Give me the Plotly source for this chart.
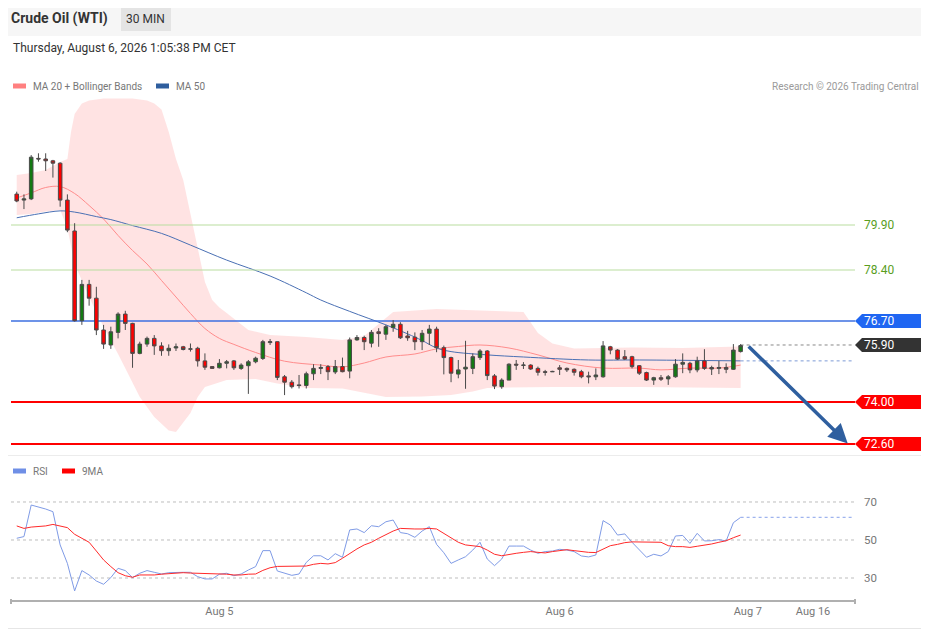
import plotly.graph_objects as go

W, H = 929, 629
PAD = 8  # page body margin of the browser

# ---- candle data (30 min bars) ----
opens = [80.93, 80.73, 80.77, 82.12, 82.10, 82.04, 81.96, 80.73, 79.70, 76.71,
         77.92, 77.46, 76.40, 75.90, 76.32, 76.93, 76.62, 75.62, 75.93, 76.12,
         75.87, 75.71, 75.80, 75.84, 75.76, 75.79, 75.37, 75.18, 75.14, 75.29,
         75.37, 75.12, 75.21, 75.34, 75.45, 75.98, 76.01, 74.84, 74.66, 74.57,
         74.55, 74.94, 75.12, 75.18, 75.00, 75.18, 75.03, 76.07, 76.15, 75.96,
         76.34, 76.26, 76.48, 76.59, 76.20, 76.16, 76.01, 76.29, 76.43, 75.81,
         75.48, 74.93, 75.10, 75.12, 75.48, 75.70, 74.87, 74.51, 74.73, 75.26,
         75.22, 75.23, 75.12, 75.01, 75.02, 75.14, 75.12, 75.09, 75.01, 74.87,
         74.84, 74.84, 75.84, 75.73, 75.51, 75.51, 75.21, 74.98, 74.73, 74.81,
         74.77, 74.84, 75.26, 75.29, 75.07, 75.37, 75.15, 75.12, 75.15, 75.09,
         75.68]
highs = [81.01, 80.92, 82.23, 82.29, 82.29, 82.07, 81.99, 80.92, 79.96, 78.07,
         78.07, 77.84, 76.57, 76.51, 76.99, 77.04, 76.64, 76.01, 76.18, 76.23,
         75.99, 75.92, 75.95, 75.87, 75.95, 75.84, 75.62, 75.19, 75.43, 75.40,
         75.40, 75.29, 75.40, 75.51, 76.07, 76.10, 76.02, 74.90, 74.73, 74.90,
         75.01, 75.26, 75.26, 75.23, 75.40, 75.48, 76.15, 76.23, 76.21, 76.40,
         76.46, 76.57, 76.73, 76.66, 76.37, 76.32, 76.40, 76.57, 76.51, 75.88,
         75.51, 75.40, 76.04, 75.62, 75.76, 75.73, 74.93, 74.79, 75.29, 75.40,
         75.33, 75.26, 75.18, 75.07, 75.04, 75.23, 75.15, 75.12, 75.07, 75.01,
         75.12, 76.03, 75.87, 75.76, 75.73, 75.54, 75.23, 75.01, 74.84, 74.90,
         74.90, 75.43, 75.62, 75.34, 75.51, 75.76, 75.21, 75.37, 75.29, 75.93,
         75.93]
lows = [80.66, 80.43, 80.73, 82.01, 81.70, 81.48, 80.51, 79.66, 76.68, 76.57,
        77.21, 76.23, 75.77, 75.77, 76.12, 76.40, 75.14, 75.59, 75.84, 75.57,
        75.54, 75.54, 75.70, 75.72, 75.68, 75.18, 75.07, 75.11, 75.12, 75.12,
        75.07, 75.07, 74.27, 75.29, 75.40, 75.90, 74.73, 74.23, 74.45, 74.45,
        74.45, 74.73, 74.93, 74.73, 74.93, 74.99, 74.79, 76.04, 75.73, 75.82,
        75.84, 76.07, 76.34, 76.10, 76.04, 75.73, 75.73, 75.90, 75.66, 74.92,
        74.66, 74.79, 74.44, 74.93, 75.40, 74.73, 74.43, 74.44, 74.73, 75.07,
        75.10, 75.07, 74.88, 74.88, 75.00, 74.90, 75.00, 74.88, 74.79, 74.62,
        74.73, 74.81, 75.59, 75.40, 75.40, 75.12, 74.90, 74.70, 74.57, 74.70,
        74.57, 74.81, 74.96, 74.96, 74.99, 75.07, 74.90, 74.93, 74.96, 75.07,
        75.65]
closes = [80.70, 80.77, 82.16, 82.10, 82.04, 81.96, 80.73, 79.73, 76.71, 77.92,
          77.46, 76.40, 75.93, 76.34, 76.93, 76.62, 75.62, 75.93, 76.12, 75.87,
          75.71, 75.79, 75.84, 75.75, 75.77, 75.37, 75.16, 75.12, 75.29, 75.34,
          75.14, 75.23, 75.34, 75.46, 76.01, 76.01, 74.82, 74.66, 74.51, 74.55,
          74.94, 75.12, 75.15, 75.01, 75.18, 75.01, 76.07, 76.15, 76.01, 76.32,
          76.28, 76.51, 76.59, 76.14, 76.14, 76.01, 76.29, 76.43, 75.81, 75.48,
          74.96, 75.07, 75.16, 75.51, 75.70, 74.88, 74.53, 74.73, 75.26, 75.23,
          75.23, 75.10, 74.99, 74.99, 75.01, 75.09, 75.07, 74.99, 74.84, 74.84,
          74.90, 75.87, 75.73, 75.43, 75.43, 75.18, 74.96, 74.73, 74.81, 74.76,
          74.84, 75.26, 75.32, 75.07, 75.37, 75.12, 75.10, 75.15, 75.09, 75.73,
          75.88]
bars = list(range(len(closes)))

# ---- indicators ----
ma20_idx = [0, 2, 4, 6, 8, 10, 12, 14, 16, 18, 20, 22, 24, 26, 28, 30, 33, 37, 42, 45,
            48, 51, 55, 58, 61, 64, 68, 72, 76, 81, 86, 89, 93, 97, 100]
ma20 = [80.80, 80.97, 81.15, 81.18, 80.95, 80.55, 80.10, 79.55, 79.05, 78.60,
        78.05, 77.50, 76.95, 76.45, 76.12, 75.92, 75.65, 75.36, 75.23, 75.17,
        75.30, 75.50, 75.60, 75.77, 75.85, 75.90, 75.80, 75.57, 75.30, 75.13,
        75.13, 75.07, 75.13, 75.13, 75.23]

ma50_idx = [0, 3, 6, 8, 11, 13, 16, 20, 24, 29, 35, 40, 42, 46, 51, 54, 56, 58, 60, 65,
            70, 79, 86, 100]
ma50 = [80.14, 80.27, 80.37, 80.33, 80.18, 80.08, 79.88, 79.62, 79.23, 78.73,
        78.20, 77.64, 77.40, 77.02, 76.57, 76.27, 76.05, 75.80, 75.68, 75.57,
        75.50, 75.40, 75.40, 75.37]

bb_up_idx = [0, 2, 4, 6, 7, 7.5, 8, 9, 10, 12, 16, 18, 19, 20, 21, 22, 23, 24, 25, 26,
             27, 28, 29, 32, 35, 40, 45, 48, 50, 52, 58, 64, 70, 72, 74, 77, 85, 92, 100]
bb_up = [81.57, 81.63, 81.73, 82.00, 82.10, 83.00, 83.60, 83.95, 84.05, 84.12,
         84.12, 84.05, 83.95, 83.75, 83.00, 82.10, 81.40, 80.30, 79.17, 78.00,
         77.40, 77.15, 76.97, 76.40, 76.23, 76.17, 76.07, 76.20, 76.60, 77.00,
         77.10, 77.05, 77.00, 76.30, 75.95, 75.78, 75.82, 75.80, 75.85]

bb_lo_idx = [0, 2, 4, 6, 7, 8, 10, 12, 14, 17, 19, 21, 22, 23, 24, 25, 26, 29, 33, 36,
             40, 45, 51, 56, 60, 63, 65, 74, 86, 100]
bb_lo = [80.23, 80.27, 80.35, 80.40, 79.80, 78.60, 77.50, 76.50, 75.60, 74.17,
         73.50, 73.05, 73.00, 73.30, 73.63, 74.17, 74.50, 74.73, 74.77, 74.62,
         74.47, 74.45, 74.17, 74.18, 74.23, 74.35, 74.47, 74.50, 74.50, 74.47]

rsi = [50.9, 51.8, 68.4, 67.5, 66.3, 64.9, 47.4, 37.7, 23.2, 33.9,
       31.6, 28.4, 26.7, 30.2, 35.1, 33.9, 30.2, 32.5, 33.9, 33.0,
       32.1, 32.8, 33.0, 33.0, 33.0, 30.7, 29.5, 29.5, 32.0, 32.5,
       31.2, 32.1, 34.2, 36.0, 44.4, 44.4, 33.7, 32.5, 31.4, 32.1,
       38.2, 41.7, 41.7, 39.5, 42.8, 40.9, 55.3, 55.8, 53.9, 57.5,
       57.0, 59.6, 60.5, 53.9, 53.3, 51.4, 54.7, 57.0, 47.7, 43.3,
       37.7, 39.5, 41.2, 44.7, 48.8, 40.0, 36.5, 40.0, 46.8, 46.8,
       46.8, 44.7, 43.0, 43.9, 44.2, 45.1, 44.7, 43.9, 41.6, 41.1,
       42.1, 60.2, 57.9, 52.6, 53.2, 48.8, 44.7, 40.9, 42.5, 41.6,
       43.9, 52.1, 52.4, 48.2, 53.5, 49.5, 49.6, 50.2, 49.5, 59.1,
       61.9]
rsi_ma9 = [57.4, 56.1, 56.8, 57.2, 57.4, 58.2, 57.5, 56.5, 53.0, 50.9,
           48.8, 44.2, 39.5, 36.0, 32.8, 31.2, 30.4, 31.6, 31.6, 31.6,
           32.0, 32.3, 32.8, 32.8, 32.6, 32.5, 32.3, 32.1, 32.0, 32.0,
           31.6, 31.6, 32.0, 32.1, 34.0, 35.4, 36.1, 36.1, 36.1, 36.1,
           36.3, 37.2, 37.7, 37.4, 38.1, 40.4, 43.0, 45.3, 47.4, 48.8,
           50.9, 53.0, 54.7, 56.1, 55.8, 55.8, 55.8, 56.1, 55.8, 53.5,
           51.2, 48.8, 47.4, 47.0, 46.5, 44.7, 42.5, 41.7, 42.5, 43.0,
           43.5, 43.9, 43.5, 43.2, 43.9, 44.6, 44.9, 44.4, 43.9, 43.5,
           43.4, 45.3, 47.0, 47.7, 48.6, 49.0, 49.0, 49.0, 49.0, 48.8,
           47.0, 46.5, 46.5, 46.1, 46.7, 47.2, 47.9, 48.8, 49.6, 51.2,
           52.6]

# key levels
resist = [79.90, 78.40]
pivot = 76.70
last_price = 75.90
support = [74.00, 72.60]
target = 72.60
rsi_levels = [70, 50, 30]

tick_pos = [28, 75, 101, 110]
tick_text = ['Aug 5', 'Aug 6', 'Aug 7', 'Aug 16']

x_range = [-0.79, 115.8]
y_range = [72.233, 84.233]
rsi_range = [18.42, 92.1]

FW, FH = W - PAD, H - PAD


def px(x):
    return (x - PAD) / FW


def py(y):
    return 1 - (y - PAD) / FH


fig = go.Figure()

# bollinger band + moving averages (base price axis)
fig.add_trace(go.Scatter(x=bb_up_idx, y=bb_up, mode='lines', line=dict(width=0),
                         hoverinfo='skip', xaxis='x', yaxis='y'))
fig.add_trace(go.Scatter(x=bb_lo_idx, y=bb_lo, mode='lines', line=dict(width=0),
                         fill='tonexty', fillcolor='rgba(255,215,215,0.7)', hoverinfo='skip',
                         xaxis='x', yaxis='y'))
fig.add_trace(go.Scatter(x=ma20_idx, y=ma20, mode='lines', line=dict(color='#ff8c8c', width=1, shape='spline'),
                         xaxis='x', yaxis='y'))
fig.add_trace(go.Scatter(x=ma50_idx, y=ma50, mode='lines', line=dict(color='#4a70b4', width=1, shape='spline'),
                         xaxis='x', yaxis='y'))
fig.add_trace(go.Scatter(x=[ma50_idx[-1], x_range[1] - 0.3], y=[ma50[-1], ma50[-1]], mode='lines',
                         line=dict(color='#7d9bd6', width=1, dash='dot'), xaxis='x', yaxis='y'))

# level lines
for lv in resist:
    fig.add_trace(go.Scatter(x=x_range, y=[lv, lv], mode='lines', line=dict(color='#b9de9f', width=1.2),
                             xaxis='x', yaxis='y'))
fig.add_trace(go.Scatter(x=x_range, y=[pivot, pivot], mode='lines', line=dict(color='#3d6fe0', width=1.3),
                         xaxis='x', yaxis='y'))
for lv in support:
    fig.add_trace(go.Scatter(x=x_range, y=[lv, lv], mode='lines', line=dict(color='#ff0000', width=2),
                             xaxis='x', yaxis='y'))
fig.add_trace(go.Scatter(x=[bars[-1], x_range[1] - 0.3], y=[last_price, last_price], mode='lines',
                         line=dict(color='#888888', width=1, dash='dot'), xaxis='x', yaxis='y'))

# candles on an overlaid axis so they sit above the band
fig.add_trace(go.Candlestick(
    x=bars, open=opens, high=highs, low=lows, close=closes,
    increasing=dict(fillcolor='#137a13', line=dict(color='#4a4a4a', width=1)),
    decreasing=dict(fillcolor='#ff0000', line=dict(color='#4a4a4a', width=1)),
    whiskerwidth=0, xaxis='x', yaxis='y3'))

# RSI panel
for lv in rsi_levels:
    fig.add_trace(go.Scatter(x=x_range, y=[lv, lv], mode='lines', line=dict(color='#bdbdbd', width=1, dash='dot'),
                             xaxis='x2', yaxis='y2'))
fig.add_trace(go.Scatter(x=bars, y=rsi, mode='lines', line=dict(color='#7f9be6', width=1), xaxis='x2', yaxis='y2'))
fig.add_trace(go.Scatter(x=[bars[-1], x_range[1] - 0.3], y=[rsi[-1], rsi[-1]], mode='lines',
                         line=dict(color='#9fb4ee', width=1.2, dash='dot'), xaxis='x2', yaxis='y2'))
fig.add_trace(go.Scatter(x=bars, y=rsi_ma9, mode='lines', line=dict(color='#ff2a2a', width=1), xaxis='x2', yaxis='y2'))

font = 'Roboto, Arial, sans-serif'
shapes = []
annotations = []

# header band and frame
shapes.append(dict(type='rect', xref='paper', yref='paper', x0=0, x1=1, y0=py(36), y1=1,
                   fillcolor='#f6f6f6', line=dict(width=0), layer='below'))
shapes.append(dict(type='rect', xref='paper', yref='paper', x0=px(121), x1=px(171), y0=py(31), y1=py(7),
                   fillcolor='#e4e4e4', line=dict(width=0), layer='below'))
shapes.append(dict(type='line', xref='paper', yref='paper', x0=px(928.5), x1=px(928.5), y0=0, y1=1,
                   line=dict(color='#e6e6e6', width=1)))
shapes.append(dict(type='line', xref='paper', yref='paper', x0=0, x1=1, y0=py(628.5), y1=py(628.5),
                   line=dict(color='#e6e6e6', width=1)))
shapes.append(dict(type='line', xref='paper', yref='paper', x0=0, x1=1, y0=py(455.5), y1=py(455.5),
                   line=dict(color='#ececec', width=1)))
annotations += [
    dict(x=px(9), y=py(19), text='<b>Crude Oil (WTI)</b>', font=dict(size=14, color='#333333')),
    dict(x=px(124), y=py(19), text='30 MIN', font=dict(size=12, color='#333333')),
    dict(x=px(11), y=py(48), text='Thursday, August 6, 2026 1:05:38 PM CET', font=dict(size=12, color='#333333')),
    dict(x=px(31), y=py(86), text='MA 20 + Bollinger Bands', font=dict(size=10, color='#777777')),
    dict(x=px(174), y=py(86), text='MA 50', font=dict(size=10, color='#777777')),
    dict(x=px(921), y=py(86), text='Research © 2026 Trading Central', xanchor='right',
         font=dict(size=10, color='#9a9a9a')),
    dict(x=px(31), y=py(471), text='RSI', font=dict(size=10, color='#777777')),
    dict(x=px(80), y=py(471), text='9MA', font=dict(size=10, color='#777777')),
]
for x0, col, yy in [(13, '#ff8080', 86), (156, '#2f5e9e', 86), (13, '#6f8fe6', 471), (62, '#ff0000', 471)]:
    shapes.append(dict(type='rect', xref='paper', yref='paper', x0=px(x0), x1=px(x0 + 13),
                       y0=py(yy + 2.5), y1=py(yy - 2.5), fillcolor=col, line=dict(width=0)))


# price tags on the right
def tag(level, color):
    h = 7 / 30.0
    shapes.append(dict(type='path', xref='paper', yref='y',
                       path=f'M {px(855)},{level} L {px(862)},{level + h} L {px(925)},{level + h} '
                            f'L {px(925)},{level - h} L {px(862)},{level - h} Z',
                       fillcolor=color, line=dict(width=0)))
    annotations.append(dict(x=px(862), y=level, yref='y', text=f'{level:.2f}',
                            font=dict(size=12, color='white')))


tag(pivot, '#1f66f2')
tag(last_price, '#333333')
for lv in support:
    tag(lv, '#ff0000')
for lv in resist:
    annotations.append(dict(x=px(862), y=lv, yref='y', text=f'{lv:.2f}', font=dict(size=12, color='#5a9e1e')))
for lv in rsi_levels:
    annotations.append(dict(x=px(862), y=lv, yref='y2', text=str(lv), font=dict(size=11.5, color='#777777')))

# axis end ticks
for xe in (11, 855):
    shapes.append(dict(type='line', xref='paper', yref='paper', x0=px(xe), x1=px(xe), y0=py(604), y1=py(599),
                       line=dict(color='#b0b0b0', width=2)))

for a in annotations:
    a.setdefault('xref', 'paper')
    a.setdefault('yref', 'paper')
    a.setdefault('xanchor', 'left')
    a.setdefault('yanchor', 'middle')
    a['showarrow'] = False

# forecast arrow
annotations.append(dict(x=114.8, y=target + 0.02, xref='x', yref='y', ax=bars[-1] + 0.9, ay=last_price,
                        axref='x', ayref='y', text='', showarrow=True, arrowhead=2, arrowsize=1.1,
                        arrowwidth=3.5, arrowcolor='#2f5f9f'))

fig.update_layout(
    width=FW, height=FH,
    margin=dict(l=0, r=0, t=0, b=0),
    paper_bgcolor='white', plot_bgcolor='white',
    showlegend=False,
    font=dict(family=font, color='#777777'),
    xaxis=dict(domain=[px(11), px(855)], range=x_range, showgrid=False, zeroline=False,
               showticklabels=False, rangeslider=dict(visible=False), fixedrange=True),
    yaxis=dict(domain=[py(455), py(95)], range=y_range, showgrid=False, zeroline=False,
               showticklabels=False),
    yaxis3=dict(overlaying='y', range=y_range, visible=False),
    xaxis2=dict(domain=[px(11), px(855)], range=x_range, anchor='y2', showgrid=False, zeroline=False,
                tickvals=tick_pos, ticktext=tick_text, ticks='', showline=True, linecolor='#b0b0b0',
                linewidth=2, tickfont=dict(size=11, color='#777777')),
    yaxis2=dict(domain=[py(600), py(460)], range=rsi_range, anchor='x2', showgrid=False, zeroline=False,
                showticklabels=False),
    shapes=shapes,
    annotations=annotations,
)

fig.write_html("out.html")
